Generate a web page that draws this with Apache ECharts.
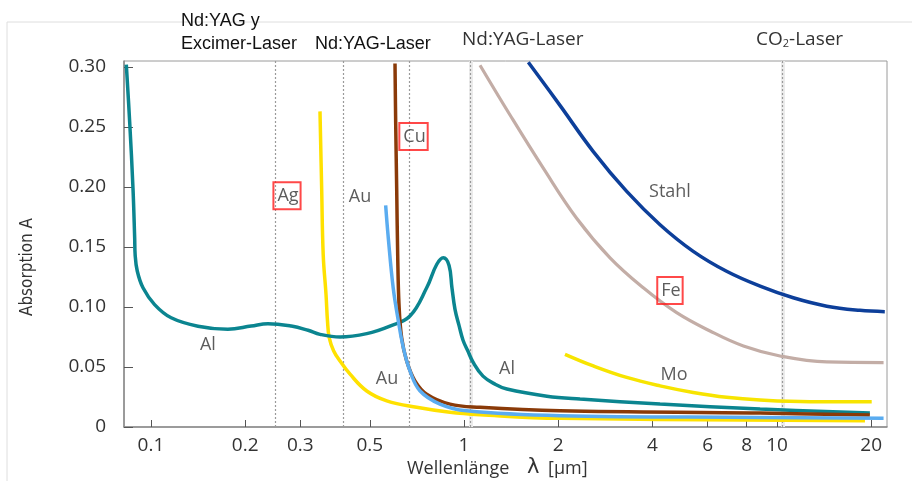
<!DOCTYPE html>
<html>
<head>
<meta charset="utf-8">
<script src="https://cdn.jsdelivr.net/npm/echarts@6/dist/echarts.min.js"></script>
<style>html,body{margin:0;padding:0;background:#fff}#c{width:912px;height:481px}</style>
</head>
<body>
<div id="c"></div>
<script>
// ---- data (wavelength in µm, absorption A) ----
const xTicks = [0.1, 0.2, 0.3, 0.5, 1, 2, 4, 6, 8, 10, 20];
const xTickLabels = ['0.1', '0.2', '0.3', '0.5', '1', '2', '4', '6', '8', '10', '20'];
const yTicks = [0, 0.05, 0.10, 0.15, 0.20, 0.25, 0.30];
const yTickLabels = ['0', '0.05', '0.10', '0.15', '0.20', '0.25', '0.30'];

const al = [[0.0834,0.302],[0.0855,0.254],[0.0876,0.199],[0.0887,0.1575],[0.0890,0.1437],[0.0904,0.130],[0.0943,0.116],[0.1027,0.102],[0.116,0.091],[0.1413,0.084],[0.176,0.0814],[0.209,0.0841],[0.2365,0.0861],[0.2807,0.0841],[0.3175,0.0806],[0.3467,0.0772],[0.4018,0.075],[0.489,0.0778],[0.580,0.0841],[0.672,0.0925],[0.760,0.116],[0.818,0.1354],[0.859,0.141],[0.896,0.1346],[0.915,0.1163],[0.936,0.098],[0.964,0.0847],[0.993,0.0723],[1.030,0.0631],[1.069,0.054],[1.150,0.0424],[1.256,0.0357],[1.371,0.0316],[1.84,0.0257],[2.348,0.0233],[4.23,0.0191],[8.83,0.0150],[19.8,0.0116]];
const ag = [[0.3467,0.263],[0.351,0.199],[0.355,0.1437],[0.3625,0.110],[0.3664,0.0883],[0.371,0.0745],[0.3835,0.0634],[0.4018,0.055],[0.4325,0.044],[0.489,0.030],[0.5667,0.0218],[0.706,0.0164],[0.902,0.0122],[1.125,0.0102],[2.026,0.0072],[19.1,0.0052]];
const au = [[0.562,0.1846],[0.573,0.1575],[0.594,0.116],[0.617,0.0883],[0.640,0.0662],[0.672,0.0468],[0.723,0.0302],[0.838,0.0191],[1.02,0.0135],[2.026,0.0094],[8.83,0.0080],[21.9,0.0072]];
const cu = [[0.602,0.303],[0.605,0.254],[0.6095,0.199],[0.614,0.1437],[0.620,0.102],[0.632,0.0745],[0.656,0.055],[0.697,0.0385],[0.760,0.0274],[0.902,0.0191],[1.125,0.0164],[2.026,0.0135],[8.83,0.0116],[19.8,0.0100]];
const stahl = [[1.605,0.304],[2.026,0.268],[2.589,0.2295],[3.31,0.1963],[4.23,0.1686],[5.40,0.1464],[6.90,0.1298],[8.83,0.1174],[11.27,0.1077],[14.42,0.1007],[18.4,0.0972],[22.1,0.0961]];
const fe = [[1.125,0.3015],[1.403,0.260],[1.792,0.2157],[2.29,0.174],[2.928,0.141],[3.74,0.116],[4.78,0.0953],[6.11,0.080],[7.81,0.0675],[10.22,0.0592],[14.42,0.0542],[21.9,0.0537]];
const mo = [[2.102,0.0606],[2.589,0.0509],[3.31,0.0413],[4.23,0.0343],[5.40,0.0288],[6.90,0.0247],[8.83,0.0224],[12.74,0.021],[20.07,0.021]];

const laserLines = [0.25, 0.405, 0.667, 1.053, 10.4];
const laserBands = [1.053, 10.4];

// material labels: [λ, A, text, boxed]
const matLabels = [[0.152,0.0681,'Al',false],[1.372,0.0482,'Al',false],[0.272,0.1927,'Ag',true],[0.4653,0.1919,'Au',false],[0.5675,0.0399,'Au',false],[0.6898,0.242,'Cu',true],[4.55,0.196,'Stahl',false],[4.55,0.1138,'Fe',true],[4.69,0.0432,'Mo',false]];

const FONT = 'Open Sans';
function lineSeries(name, data, color, width) {
  return {name, type:'line', data, showSymbol:false, smooth:0.4, silent:true,
    lineStyle:{color, width}, itemStyle:{color}, z:3};
}
const chart = echarts.init(document.getElementById('c'), null, {renderer:'canvas'});
chart.setOption({
  animation:false,
  backgroundColor:'#fff',
  grid:{left:124, top:61, right:25, bottom:54, show:true, borderColor:'#9a9a9a', borderWidth:1},
  xAxis:{type:'log', logBase:10, min:0.082, max:22.46,
    axisLine:{show:true, lineStyle:{color:'#8a8a8a', width:1.5}},
    axisTick:{show:true, inside:true, length:7, customValues:xTicks, lineStyle:{color:'#555'}},
    axisLabel:{customValues:xTicks, fontFamily:FONT, fontSize:19, color:'#333', margin:9,
      formatter:v=>{let b=0,d=1e9;xTicks.forEach((t,i)=>{const dd=Math.abs(Math.log(t)-Math.log(v));if(dd<d){d=dd;b=i;}});return xTickLabels[b];}},
    splitLine:{show:false}, minorTick:{show:false}},
  yAxis:{type:'value', min:0, max:0.305, interval:0.05,
    axisLine:{show:true, lineStyle:{color:'#8a8a8a', width:1.5}},
    axisTick:{show:true, inside:true, length:9, lineStyle:{color:'#555'}},
    axisLabel:{fontFamily:FONT, fontSize:19, color:'#333', margin:18, showMaxLabel:false,
      formatter:v=>{const k=Math.round(v/0.05);if(Math.abs(v/0.05-k)>1e-6)return '';const i=yTicks.findIndex(t=>Math.abs(t-v)<1e-6);return i>=0?yTickLabels[i]:'';}},
    splitLine:{show:false}},
  series:[
    {type:'line', data:[], silent:true, z:1,
      markLine:{silent:true, z:1, symbol:'none', label:{show:false}, animation:false,
        lineStyle:{color:'#ebebeb', type:'solid', width:4},
        data:laserBands.map(v=>({xAxis:v}))}},
    {type:'line', data:[], silent:true, z:2,
      markLine:{silent:true, z:2, symbol:'none', label:{show:false}, animation:false,
        lineStyle:{color:'#9a9a9a', type:[2,2], width:1.2},
        data:laserLines.map(v=>({xAxis:v}))}},
    lineSeries('Fe', fe, '#c3ada6', 3.2),
    lineSeries('Stahl', stahl, '#0d3f9a', 3.5),
    lineSeries('Mo', mo, '#f7e400', 3.5),
    lineSeries('Ag', ag, '#ffe100', 3.5),
    lineSeries('Al', al, '#0b8590', 3.5),
    lineSeries('Cu', cu, '#8a3a08', 3.5),
    lineSeries('Au', au, '#5aacf0', 3.5),
    {type:'scatter', symbolSize:0, silent:true, z:10,
      data:matLabels.map(d=>({value:[d[0],d[1]], label:d[3]?
        {show:true, position:'inside', formatter:d[2], fontFamily:FONT, fontSize:18, color:'#333',
         borderColor:'#ff1a1a', borderWidth:2, padding:[2,2,2,4], lineHeight:23}:
        {show:true, position:'inside', formatter:d[2], fontFamily:FONT, fontSize:18, color:'#333'}})),
      label:{show:true}}
  ],
  graphic:[
    {type:'rect', z:-1, shape:{x:7, y:22, width:930, height:480}, style:{fill:'none', stroke:'#dedede', lineWidth:1}},
    {type:'text', left:181, top:12, style:{text:'Nd:YAG y', font:'18px "Liberation Sans", Arial, sans-serif', fill:'#111'}},
    {type:'text', left:181, top:35, style:{text:'Excimer-Laser', font:'18px "Liberation Sans", Arial, sans-serif', fill:'#111'}},
    {type:'text', left:315, top:35, style:{text:'Nd:YAG-Laser', font:'18px "Liberation Sans", Arial, sans-serif', fill:'#111'}},
    {type:'text', left:462, top:30, style:{text:'Nd:YAG-Laser', font:'19px "Open Sans"', fill:'#333'}},
    {type:'text', left:756, top:30, style:{text:'{a|CO}{s|2}{a|-Laser}', rich:{a:{font:'19px "Open Sans"', fill:'#333'}, s:{font:'11px "Open Sans"', fill:'#333', padding:[8,0,0,0]}}}},
    {type:'text', x:28, y:267, rotation:Math.PI/2, style:{text:'Absorption A', font:'17px "Liberation Sans Narrow", "DejaVu Sans Condensed", sans-serif', fill:'#333', align:'center', verticalAlign:'middle'}},
    {type:'text', left:407, top:460, style:{text:'Wellenlänge', font:'18px "Open Sans"', fill:'#333'}},
    {type:'text', left:527, top:457, style:{text:'λ', font:'21px "DejaVu Sans"', fill:'#333'}},
    {type:'text', left:548, top:460, style:{text:'[µm]', font:'18px "Open Sans"', fill:'#333'}}
  ]
});
</script>
</body>
</html>
